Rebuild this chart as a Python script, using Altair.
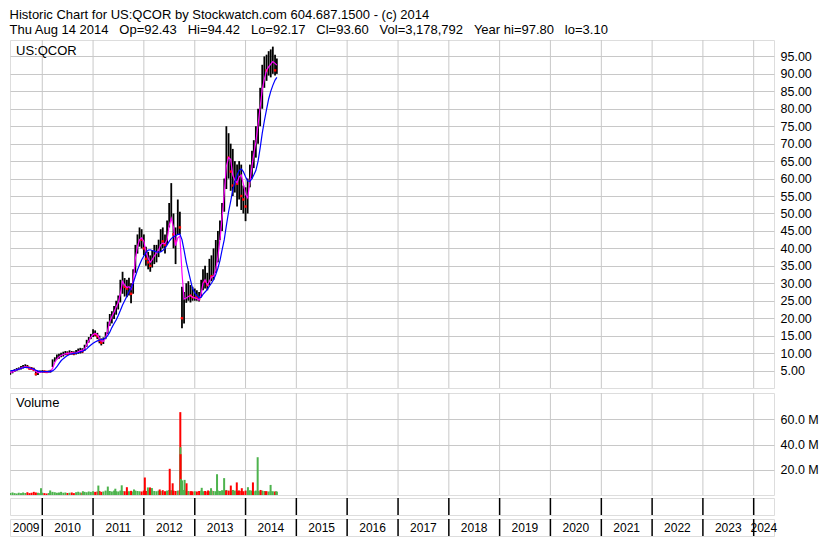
import altair as alt
import pandas as pd

FONT = "Liberation Sans"

# ---------------- data ----------------
title_lines = [
    "Historic Chart for US:QCOR by Stockwatch.com 604.687.1500 - (c) 2014",
    "Thu Aug 14 2014" + "\u00a0" * 3 + "Op=92.43" + "\u00a0" * 3 + "Hi=94.42" + "\u00a0" * 3
    + "Lo=92.17" + "\u00a0" * 3 + "Cl=93.60" + "\u00a0" * 3 + "Vol=3,178,792" + "\u00a0" * 3
    + "Year hi=97.80" + "\u00a0" * 3 + "lo=3.10",
]

# semi-monthly sampling dates (1st and 16th of each month)
period_dates = [f"{y}-{m:02d}-{d:02d}" for y in range(2009, 2015) for m in range(1, 13) for d in (1, 16)]
period_dates = [s for s in period_dates if "2009-05-16" <= s <= "2014-08-01"] + ["2014-08-14"]

low = (
    [3.8, 4.2, 4.6, 4.9, 5.1, 5.3, 5.6, 5.8, 5.7, 5.3, 5.2, 4.9, 3.6, 3.7, 4.3]
    + [4.4, 4.4, 4.3, 4.4, 4.4, 6.0, 7.5, 8.2, 8.4, 8.8, 9.0, 9.4, 9.3, 9.5, 9.6, 9.4, 9.6, 9.8, 9.9, 10.0, 10.6, 11.8, 13.0, 14.0]
    + [14.6, 14.8, 14.0, 12.8, 12.2, 12.6, 14.0, 15.5, 17.8, 18.5, 19.8, 21.0, 22.5, 24.5, 27.0, 26.2, 26.0, 26.5, 24.3, 27.0, 33.0, 38.5, 40.5, 40.0]
    + [38.0, 35.0, 34.0, 33.3, 34.5, 35.5, 36.0, 37.5, 39.0, 40.0, 38.5, 41.0, 46.0, 48.0, 40.0, 35.5, 44.0, 44.0, 17.1, 18.5, 24.4, 25.0, 24.5, 25.0]
    + [25.0, 25.0, 24.8, 26.0, 28.0, 28.5, 28.0, 29.5, 30.6, 31.0, 33.0, 36.0, 42.4, 45.0, 50.5, 57.0, 60.0, 56.5, 55.0, 56.0, 52.0, 54.0, 51.0, 50.0]
    + [47.8, 50.0, 57.5, 60.0, 63.0, 66.0, 70.0, 75.0, 80.0, 86.0, 88.0, 89.5, 89.0, 90.0, 89.5, 90.0]
)
high = (
    [4.7, 5.0, 5.4, 5.7, 5.9, 6.3, 6.6, 6.8, 6.6, 6.1, 6.0, 5.8, 5.2, 4.9, 5.0]
    + [5.1, 5.0, 4.9, 5.0, 5.2, 8.2, 8.8, 9.6, 9.8, 10.1, 10.4, 10.6, 10.5, 10.8, 10.6, 10.5, 10.9, 11.3, 11.5, 11.4, 12.4, 13.8, 14.6, 15.5]
    + [16.8, 16.5, 15.8, 15.0, 14.2, 14.5, 16.0, 19.0, 21.2, 22.0, 23.5, 25.0, 26.5, 31.0, 33.3, 31.5, 31.0, 31.6, 30.0, 34.0, 41.0, 44.0, 46.0, 45.5]
    + [44.0, 40.5, 39.0, 38.0, 39.5, 41.0, 41.0, 42.5, 45.5, 46.0, 44.0, 48.0, 53.0, 58.7, 50.0, 46.0, 54.0, 50.5, 29.0, 27.5, 30.0, 30.6, 29.5, 29.0]
    + [28.5, 28.0, 27.5, 31.0, 34.0, 35.0, 33.0, 37.0, 38.0, 40.0, 42.4, 45.0, 48.0, 53.0, 60.0, 75.0, 73.0, 70.0, 68.5, 65.0, 64.0, 65.0, 64.0, 58.0]
    + [57.5, 60.0, 64.0, 68.0, 71.0, 75.0, 80.0, 86.0, 92.6, 95.0, 95.5, 96.5, 97.0, 97.8, 95.5, 94.4]
)
close = (
    [4.4, 4.8, 5.2, 5.4, 5.6, 6.0, 6.2, 6.4, 6.0, 5.6, 5.5, 5.2, 4.0, 4.5, 4.7]
    + [4.8, 4.7, 4.6, 4.6, 4.9, 7.8, 8.5, 9.0, 9.3, 9.6, 9.8, 10.0, 9.8, 10.2, 10.0, 9.9, 10.4, 10.6, 10.8, 10.5, 12.0, 13.3, 14.2, 15.0]
    + [16.0, 15.4, 14.8, 13.6, 13.0, 14.2, 15.6, 18.5, 20.5, 21.0, 22.8, 24.0, 25.5, 29.5, 30.0, 29.0, 28.5, 29.5, 27.0, 32.5, 39.0, 41.5, 43.0, 42.5]
    + [40.0, 37.0, 36.0, 35.0, 37.5, 38.5, 39.0, 40.0, 43.0, 42.0, 41.0, 46.0, 50.0, 52.0, 44.0, 42.0, 47.0, 46.0, 20.0, 24.0, 27.0, 27.5, 26.5, 26.0]
    + [26.5, 26.0, 25.5, 29.5, 31.5, 30.5, 29.5, 33.0, 32.0, 34.0, 37.0, 42.0, 46.0, 50.0, 57.0, 68.0, 66.0, 62.0, 58.0, 60.0, 58.5, 61.0, 55.0, 54.0]
    + [52.0, 58.0, 61.0, 66.0, 68.0, 73.0, 78.0, 83.0, 88.0, 92.0, 91.0, 93.0, 94.0, 95.0, 91.0, 93.6]
)
ma_short = (
    [4.4, 4.6, 4.9, 5.2, 5.4, 5.7, 5.9, 6.1, 6.0, 5.7, 5.5, 5.3, 4.8, 4.4, 4.5]
    + [4.7, 4.7, 4.6, 4.6, 4.7, 5.6, 7.3, 8.3, 8.9, 9.3, 9.6, 9.8, 9.9, 10.0, 10.1, 10.0, 10.1, 10.4, 10.7, 10.8, 11.2, 12.4, 13.5, 14.5]
    + [15.3, 15.6, 15.2, 14.3, 13.5, 13.4, 14.3, 16.5, 19.0, 20.5, 21.8, 23.2, 24.5, 27.0, 30.5, 29.5, 28.8, 29.0, 28.3, 30.5, 37.0, 40.5, 42.5, 43.0]
    + [42.0, 39.0, 37.2, 36.0, 36.8, 37.8, 38.7, 39.5, 41.0, 41.5, 41.3, 42.5, 46.5, 48.6, 46.0, 40.8, 43.0, 43.5, 33.0, 25.5, 25.8, 26.2, 26.5, 26.0]
    + [25.8, 25.6, 25.2, 27.0, 30.0, 31.0, 29.5, 30.5, 31.8, 32.0, 34.0, 37.5, 42.5, 48.6, 56.0, 63.5, 66.0, 65.5, 61.0, 59.5, 58.8, 60.5, 61.0, 58.5]
    + [55.5, 54.5, 59.0, 63.5, 67.0, 70.5, 75.5, 80.5, 85.5, 88.5, 91.0, 92.0, 92.8, 93.5, 93.0, 92.5]
)
ma_long = (
    [5.0, 5.0, 5.1, 5.2, 5.4, 5.6, 5.8, 5.9, 5.9, 5.8, 5.6, 5.4, 5.1, 4.9, 4.7]
    + [4.7, 4.7, 4.7, 4.7, 4.7, 4.9, 5.4, 6.1, 7.0, 7.8, 8.4, 8.9, 9.3, 9.6, 9.8, 9.9, 10.0, 10.1, 10.3, 10.5, 10.8, 11.2, 11.8, 12.3]
    + [12.8, 13.2, 13.5, 13.7, 13.9, 14.0, 14.3, 15.0, 16.0, 17.3, 18.5, 19.5, 20.8, 22.2, 23.8, 25.0, 26.3, 27.6, 28.6, 30.0, 32.0, 33.8, 35.3, 36.7]
    + [37.8, 38.8, 39.5, 39.6, 39.4, 39.2, 39.0, 38.9, 39.0, 39.4, 40.0, 41.0, 42.0, 42.8, 43.3, 43.6, 44.0, 44.1, 42.5, 39.5, 36.0, 33.5, 31.0, 28.5]
    + [27.2, 26.5, 25.8, 26.0, 26.8, 27.5, 28.2, 29.2, 30.0, 31.0, 32.5, 34.3, 36.5, 39.5, 42.5, 46.5, 50.5, 53.5, 56.7, 59.0, 61.0, 62.3, 62.8, 62.0]
    + [60.5, 59.3, 59.2, 60.0, 61.0, 62.3, 65.0, 68.8, 73.0, 76.5, 79.8, 82.8, 85.0, 86.7, 88.2, 89.0]
)
# typical (background) volume per period, millions
base_volume = (
    [1.5, 2.0, 1.5, 1.2, 1.8, 1.5, 2.0, 1.6, 2.2, 1.5, 1.8, 2.5, 2.0, 1.8, 1.5]
    + [1.8, 1.5, 1.2, 1.6, 2.0, 2.5, 2.2, 1.8, 2.0, 2.5, 1.8, 2.0, 1.6, 1.8, 2.0, 1.5, 2.2, 2.6, 2.0, 1.8, 2.5, 2.2, 2.8, 2.5]
    + [3.0, 2.5, 2.8, 3.2, 2.5, 2.8, 3.5, 3.0, 3.2, 2.8, 3.5, 3.0, 2.8, 3.5, 3.2, 3.0, 2.6, 3.0, 3.3, 2.8, 3.5, 3.2, 3.0, 2.8]
    + [3.5, 3.2, 3.8, 3.0, 3.5, 3.2, 3.0, 3.5, 3.2, 3.8, 3.0, 3.5, 4.0, 3.8, 3.5, 3.2, 3.5, 4.0, 5.0, 4.0, 3.5, 3.2, 3.0, 2.8]
    + [3.0, 2.8, 3.2, 3.5, 3.0, 3.2, 2.8, 3.0, 3.5, 3.2, 3.0, 3.5, 3.2, 3.8, 3.5, 4.0, 3.5, 3.2, 3.8, 3.5, 3.0, 3.5, 3.2, 3.0]
    + [3.5, 3.2, 3.8, 3.5, 3.0, 3.5, 3.2, 3.0, 3.5, 3.2, 3.0, 2.8, 3.2, 3.0, 2.8, 2.5]
)
# high-volume days
spike_dates = ["2009-12-23", "2010-02-27", "2010-10-20", "2011-02-08", "2011-04-17", "2011-06-10", "2011-07-26",
               "2011-09-01", "2011-10-22", "2012-01-08", "2012-01-30", "2012-02-14", "2012-02-28", "2012-04-24",
               "2012-07-05", "2012-07-26", "2012-09-19", "2012-09-20", "2012-09-21", "2012-09-24", "2012-10-02",
               "2012-10-20", "2012-11-03", "2012-12-08", "2013-02-20", "2013-04-07", "2013-04-28", "2013-06-10",
               "2013-07-31", "2013-08-14", "2013-09-17", "2013-10-02", "2013-10-30", "2013-11-14", "2013-12-05",
               "2014-01-18", "2014-02-23", "2014-03-29", "2014-04-19", "2014-05-25", "2014-06-30", "2014-08-10"]
spike_volume = [5.4, 3.6, 3.0, 7.5, 6.7, 5.0, 7.7, 6.2, 4.4, 13.9, 6.0, 6.0, 5.5, 4.4, 20.8, 9.3,
                65.8, 38.0, 32.4, 12.6, 11.6, 12.0, 9.3, 3.0, 5.7, 3.6, 5.4, 16.5, 13.4, 3.6, 7.5, 4.0,
                10.0, 3.5, 5.4, 6.2, 10.0, 30.0, 4.0, 3.0, 8.0, 3.0]
spike_dir = ["up", "up", "up", "up", "up", "up", "up", "dn", "up", "dn", "up", "dn", "up", "dn", "dn", "dn",
             "dn", "up", "dn", "up", "up", "up", "dn", "dn", "up", "dn", "up", "up", "up", "dn", "dn", "up",
             "dn", "dn", "dn", "up", "dn", "up", "dn", "dn", "up", "up"]

years = list(range(2009, 2025))
price_ticks = [5, 10, 15, 20, 25, 30, 35, 40, 45, 50, 55, 60, 65, 70, 75, 80, 85, 90, 95]
volume_ticks = [20, 40, 60]
x_start = "2009-05-14"
x_end = "2024-05-26"

# ---------------- tables ----------------
price_df = pd.DataFrame({"date": period_dates, "lo": low, "hi": high, "close": close,
                         "ma_s": ma_short, "ma_l": ma_long, "vol": base_volume})
price_df["dir"] = ["up" if d >= 0 else "dn" for d in price_df["close"].diff().fillna(0)]
down_df = price_df[price_df["dir"] == "dn"]
spike_df = pd.DataFrame({"date": spike_dates, "vol": spike_volume, "dir": spike_dir})
bound_df = pd.DataFrame({"date": [f"{y}-01-01" for y in years[1:]]})
starts = [pd.Timestamp(x_start)] + [pd.Timestamp(f"{y}-01-01") for y in years[1:]]
ends = [pd.Timestamp(f"{y}-01-01") for y in years[1:]] + [pd.Timestamp(x_end)]
label_df = pd.DataFrame({"date": [(s + (e - s) / 2).strftime("%Y-%m-%d") for s, e in zip(starts, ends)],
                         "label": [str(y) for y in years]})

# ---------------- encodings ----------------
W = 764
XS = alt.Scale(domain=[alt.DateTime(year=2009, month=5, date=14), alt.DateTime(year=2024, month=5, date=26)])


def X(field="date"):
    return alt.X(f"{field}:T", scale=XS, axis=None)


GRID = "#c8c8c8"
PS = alt.Scale(domain=[0, 99.7], nice=False, zero=False)
p_axis = alt.Axis(orient="right", values=price_ticks, format=".2f", grid=True, gridColor=GRID, gridWidth=1,
                  domain=False, ticks=False, labelPadding=6, labelFont=FONT, labelFontSize=12.5,
                  labelColor="black", title=None)
VS = alt.Scale(domain=[0, 81], nice=False, zero=False)
v_axis = alt.Axis(orient="right", values=volume_ticks, labelExpr="format(datum.value, '.1f') + ' M'",
                  grid=True, gridColor=GRID, gridWidth=1, domain=False, ticks=False, labelPadding=6,
                  labelFont=FONT, labelFontSize=12.5, labelColor="black", title=None)
DIRC = alt.Scale(domain=["up", "dn"], range=["#4db34d", "#ff0000"])

# ---------------- price panel ----------------
p_vgrid = alt.Chart(bound_df).mark_rule(color=GRID, strokeWidth=1).encode(x=X())
p_bars = alt.Chart(price_df).mark_rule(color="black", strokeWidth=1.8, clip=True).encode(
    x=X(), y=alt.Y("lo:Q", scale=PS, axis=p_axis), y2="hi:Q")
p_red = alt.Chart(down_df).mark_square(color="#ff0000", size=6, opacity=1, clip=True).encode(
    x=X(), y=alt.Y("close:Q", scale=PS, axis=p_axis))
p_mas = alt.Chart(price_df).mark_line(color="#ff00ff", strokeWidth=1.2, clip=True).encode(
    x=X(), y=alt.Y("ma_s:Q", scale=PS, axis=p_axis))
p_mal = alt.Chart(price_df).mark_line(color="#0000ff", strokeWidth=1.2, clip=True).encode(
    x=X(), y=alt.Y("ma_l:Q", scale=PS, axis=p_axis))
p_lab = alt.Chart(pd.DataFrame({"t": ["US:QCOR"]})).mark_text(
    align="left", baseline="middle", font=FONT, fontSize=13, color="black").encode(
    x=alt.value(6), y=alt.value(11), text="t:N")
price_chart = alt.layer(p_vgrid, p_bars, p_red, p_mas, p_mal, p_lab).properties(width=W, height=348)

# ---------------- volume panel ----------------
v_vgrid = alt.Chart(bound_df).mark_rule(color=GRID, strokeWidth=1).encode(x=X())
v_base = alt.Chart(price_df).mark_rule(strokeWidth=2, clip=True).encode(
    x=X(), y=alt.Y("vol:Q", scale=VS, axis=v_axis), y2=alt.datum(0),
    color=alt.Color("dir:N", scale=DIRC, legend=None))
v_spk = alt.Chart(spike_df).mark_rule(strokeWidth=2, clip=True).encode(
    x=X(), y=alt.Y("vol:Q", scale=VS, axis=v_axis), y2=alt.datum(0),
    color=alt.Color("dir:N", scale=DIRC, legend=None))
v_lab = alt.Chart(pd.DataFrame({"t": ["Volume"]})).mark_text(
    align="left", baseline="middle", font=FONT, fontSize=13, color="black").encode(
    x=alt.value(6), y=alt.value(10), text="t:N")
volume_chart = alt.layer(v_vgrid, v_base, v_spk, v_lab).properties(width=W, height=102)

# ---------------- bottom rows ----------------
r_bound = alt.Chart(bound_df).mark_rule(color="black", strokeWidth=1.5).encode(x=X())
row1 = alt.layer(r_bound).properties(width=W, height=17)
r_text = alt.Chart(label_df).mark_text(font=FONT, fontSize=12, color="black", baseline="middle").encode(
    x=X(), y=alt.value(8.5), text="label:N")
row2 = alt.layer(r_bound, r_text).properties(width=W, height=17)

chart = alt.vconcat(
    price_chart,
    alt.vconcat(volume_chart, row1, row2, spacing=0),
    spacing=3,
).properties(
    title=alt.TitleParams(text=title_lines, anchor="start", font=FONT, fontSize=13, fontWeight="normal",
                          color="black", lineHeight=15, offset=2),
    padding={"left": 1, "top": 1, "right": 0, "bottom": 0},
).configure_view(stroke="black", strokeWidth=2).configure(background="white")

chart.save("out.html", embed_options={"renderer": "svg", "actions": False})
